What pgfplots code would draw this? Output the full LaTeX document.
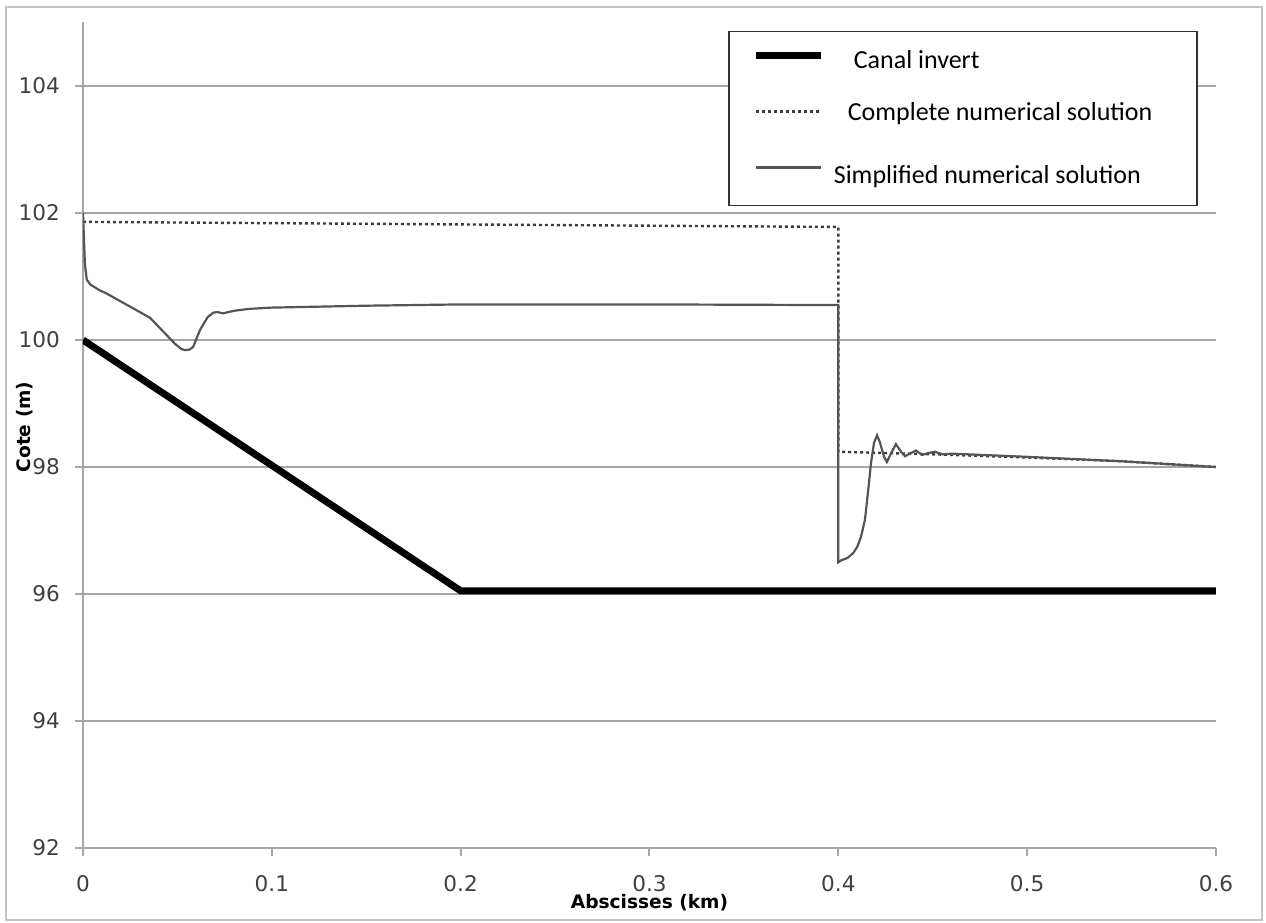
\documentclass[border=0pt]{standalone}
\usepackage{fontspec}
\usepackage{pgfplots}
\pgfplotsset{compat=1.18}
\setmainfont{DejaVu Sans}
\newfontfamily\legfont{Carlito}
\definecolor{GridGray}{HTML}{A6A6A6}
\definecolor{FrameGray}{HTML}{C4C4C4}
\definecolor{TickGray}{HTML}{404040}
\definecolor{SimpGray}{HTML}{555555}
\definecolor{DotGray}{HTML}{3C3C3C}

\begin{document}
\begin{tikzpicture}
\useasboundingbox (-41.5bp,-37.5bp) rectangle (591.5bp,424bp);
\draw[FrameGray,line width=1bp] (-38.5bp,-36bp) rectangle (589.5bp,420.5bp);
\begin{axis}[
    at={(0,0)}, anchor=south west,
    scale only axis,
    width=566.5bp, height=412.75bp,
    xmin=0, xmax=0.6, ymin=92, ymax=105,
    xtick={0,0.1,0.2,0.3,0.4,0.5,0.6},
    xticklabels={0,0.1,0.2,0.3,0.4,0.5,0.6},
    ytick={92,94,96,98,100,102,104},
    yticklabels={92,94,96,98,100,102,104},
    axis x line*=bottom, axis y line*=left,
    axis line style={-,GridGray,line width=1bp},
    tick align=outside, major tick length=4bp,
    tick style={GridGray,line width=1bp},
    ymajorgrids=true,
    grid style={GridGray,line width=1bp},
    tick label style={font=\fontsize{10.8bp}{12bp}\selectfont,text=TickGray},
    yticklabel style={anchor=east,xshift=-4bp},
    xticklabel style={anchor=north,yshift=-6bp},
    xlabel={Abscisses (km)},
    ylabel={Cote (m)},
    label style={font=\bfseries\fontsize{9.3bp}{11bp}\selectfont},
    xlabel style={at={(axis description cs:0.5,-0.0666)},anchor=center},
    ylabel style={at={(axis description cs:-0.0512,0.51)},anchor=center},
    legend style={at={(axis cs:0.3416,104.87)},anchor=north west,
        draw=black!80,line width=0.8bp,fill=white,
        inner xsep=12bp,inner ysep=9.5bp,row sep=16bp,
        font=\legfont\fontsize{13bp}{15bp}\selectfont,
        nodes={inner sep=0pt,text height=9bp,text depth=3bp},
        /tikz/every odd column/.append style={column sep=5.5bp}},
    legend cell align=left,
    legend image code/.code={\draw[#1] (2bp,3.5bp) -- (34.5bp,3.5bp);},
]
% canal invert
\addplot[black,line width=3.5bp] coordinates {
    (0,100) (0.2,96.05) (0.6,96.05)
};
% complete numerical solution
\addplot[DotGray,line width=1.2bp,dash pattern=on 1.5bp off 1.5bp] coordinates {
    (0,101.86) (0.1,101.84) (0.2,101.82) (0.3,101.8) (0.4,101.78)
    (0.4,98.24) (0.45,98.2) (0.5,98.15) (0.55,98.09) (0.6,98.0)
};
% simplified numerical solution
\addplot[SimpGray,line width=1.1bp] coordinates {
    (0,102.0) (0.0005,101.6) (0.001,101.2) (0.002,100.95) (0.004,100.87)
    (0.009,100.78) (0.012,100.74) (0.0355,100.35) (0.0487,99.94)
    (0.052,99.86) (0.054,99.84) (0.0565,99.85) (0.0583,99.89)
    (0.062,100.16) (0.066,100.36) (0.069,100.43) (0.071,100.44)
    (0.0742,100.42) (0.08,100.46) (0.088,100.49) (0.1,100.51)
    (0.15,100.54) (0.2,100.56) (0.3,100.56) (0.4,100.55)
    (0.4,96.5) (0.4015,96.53) (0.405,96.57) (0.408,96.65) (0.410,96.74)
    (0.412,96.9) (0.4141,97.17) (0.4157,97.6) (0.4173,98.06) (0.4189,98.38)
    (0.4205,98.5) (0.422,98.39) (0.4242,98.16) (0.4257,98.08) (0.428,98.22)
    (0.4305,98.36) (0.4332,98.24) (0.4353,98.17) (0.4385,98.22) (0.4411,98.26)
    (0.4443,98.19) (0.4478,98.22) (0.4512,98.24) (0.455,98.2) (0.46,98.21)
    (0.5,98.16) (0.55,98.09) (0.6,98.0)
};
\legend{\makebox[168.5bp][l]{\hspace{9bp}Canal invert},
    \makebox[168.5bp][l]{\hspace{6bp}\raisebox{2bp}{Complete numerical solution}},
    \makebox[168.5bp][l]{\hspace{-1bp}\raisebox{-1.5bp}{Simplified numerical solution}}}
\end{axis}
\end{tikzpicture}
\end{document}
